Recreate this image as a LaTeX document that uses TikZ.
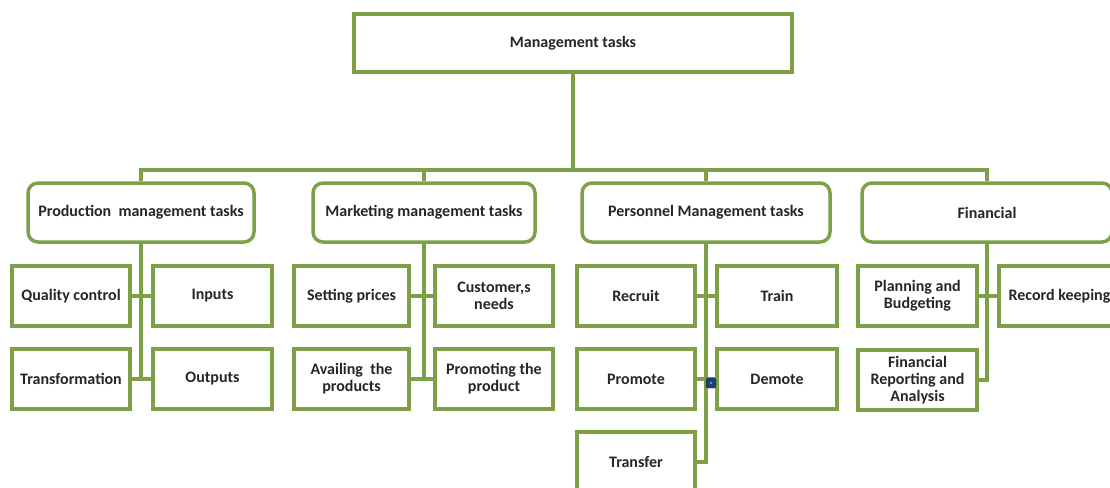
\documentclass[tikz,border=0pt]{standalone}
\usepackage{fontspec}
\setmainfont{Carlito}
\definecolor{lgreen}{RGB}{125,160,72}
\definecolor{hblue}{RGB}{31,64,110}
\begin{document}
\begin{tikzpicture}[x=1pt,y=-1pt,
  every node/.style={font=\bfseries\fontsize{16}{17}\selectfont, text=black!85, align=center},
  topbox/.style={draw=lgreen, line width=3.5pt, fill=white, minimum width=438pt, minimum height=58pt},
  midbox/.style={draw=lgreen, line width=3.5pt, fill=white, rounded corners=10pt, minimum height=59pt},
  leafbox/.style={draw=lgreen, line width=3.5pt, fill=white, minimum height=60pt, inner sep=2pt},
  conn/.style={draw=lgreen, line width=3.5pt}]
\useasboundingbox (0,0) rectangle (1110,487);
\clip (0,0) rectangle (1110,487);
\fill[white] (0,0) rectangle (1110,487);
% top
\node[topbox] (top) at (573,43) {Management tasks};
% level 2
\node[midbox, minimum width=226pt] (prod) at (141,212.5) {Production\ \ management tasks};
\node[midbox, minimum width=222pt] (mark) at (424,212.5) {Marketing management tasks};
\node[midbox, minimum width=248pt] (pers) at (706,212.5) {Personnel Management tasks};
\node[midbox, minimum width=250pt] (fin) at (987,212.5) {Financial};
% production leaves
\node[leafbox, minimum width=118pt] (qc) at (71,296) {Quality control};
\node[leafbox, minimum width=119pt] (inp) at (212.5,296) {Inputs};
\node[leafbox, minimum width=118pt] (tr) at (71,379) {Transformation};
\node[leafbox, minimum width=119pt] (out) at (212.5,379) {Outputs};
% marketing leaves
\node[leafbox, minimum width=115pt] (sp) at (351.5,296) {Setting prices};
\node[leafbox, minimum width=118pt] (cn) at (494,296) {Customer,s\\needs};
\node[leafbox, minimum width=115pt] (av) at (351.5,379) {Availing\ \ the\\products};
\node[leafbox, minimum width=118pt] (pp) at (494,379) {Promoting the\\product};
% personnel leaves
\node[leafbox, minimum width=118pt] (rec) at (636,296) {Recruit};
\node[leafbox, minimum width=120pt] (trn) at (777,296) {Train};
\node[leafbox, minimum width=118pt] (pro) at (636,379) {Promote};
\node[leafbox, minimum width=120pt] (dem) at (777,379) {Demote};
\node[leafbox, minimum width=118pt, minimum height=60pt] (tra) at (636,462) {Transfer};
% financial leaves
\node[leafbox, minimum width=119pt] (pb) at (917.5,296) {Planning and\\Budgeting};
\node[leafbox, minimum width=121pt] (rk) at (1059.5,296) {Record keeping};
\node[leafbox, minimum width=119pt] (fra) at (917.5,380) {Financial\\Reporting and\\Analysis};
% connectors
\coordinate (bus) at (0,170);
\draw[conn] (top.south) -- (top.south |- bus);
\draw[conn] (prod.north) -- (prod.north |- bus) -- (fin.north |- bus) -- (fin.north);
\draw[conn] (mark.north) -- (mark.north |- bus);
\draw[conn] (pers.north) -- (pers.north |- bus);
% production
\draw[conn] (prod.south) -- (prod.south |- tr.east);
\draw[conn] (qc.east) -- (inp.west);
\draw[conn] (tr.east) -- (out.west);
% marketing
\draw[conn] (mark.south) -- (mark.south |- av.east);
\draw[conn] (sp.east) -- (cn.west);
\draw[conn] (av.east) -- (pp.west);
% personnel
\draw[conn] (pers.south) -- (pers.south |- tra.east) -- (tra.east);
\draw[conn] (rec.east) -- (trn.west);
\draw[conn] (pro.east) -- (dem.west);
% financial
\draw[conn] (fin.south) -- (fin.south |- fra.east) -- (fra.east);
\draw[conn] (pb.east) -- (rk.west);
% selection handle
\node[fill=hblue, draw=hblue!70!black, rounded corners=2pt, minimum size=10pt, inner sep=0pt] (handle) at (711,383) {};
\fill[blue!40!white] (handle.center) circle (1.2pt);
\end{tikzpicture}
\end{document}
